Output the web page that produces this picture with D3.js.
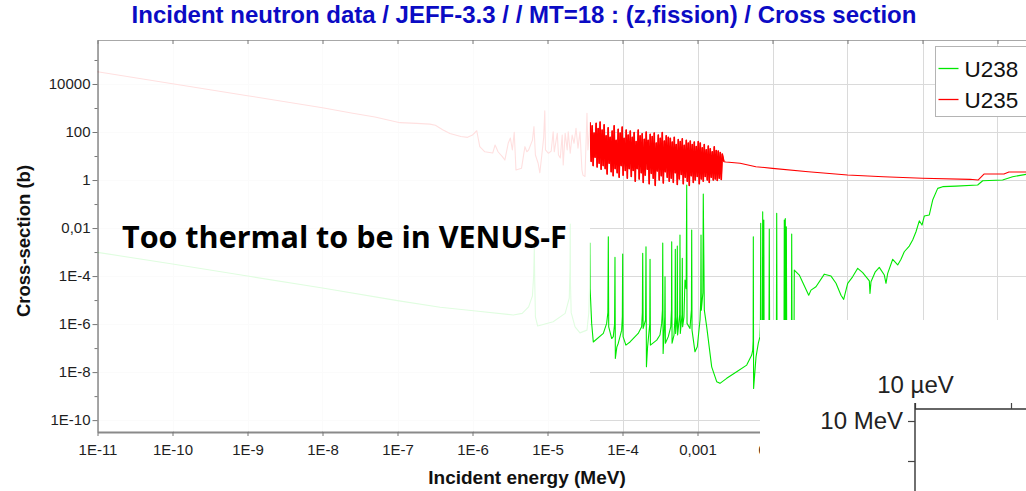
<!DOCTYPE html>
<html>
<head>
<meta charset="utf-8">
<script src="https://cdn.jsdelivr.net/npm/d3@7"></script>
<style>
  html, body { margin: 0; padding: 0; background: #fff; overflow: hidden; }
  svg { display: block; }
</style>
</head>
<body>
<svg id="chart" width="1026" height="491"></svg>
<script>
// ---------------------------------------------------------------
// Fission cross sections, JEFF-3.3 (energies in eV, sigma in barns)
// ---------------------------------------------------------------
const seriesNames = ["U238", "U235"];
const seriesColors = ["#00e800", "#ff0000"];

// U235: thermal 1/v part and first resolved resonances
const u235LowEv = [1e-5, 1e-4, 1e-3, 0.01, 0.0253, 0.05, 0.108, 0.18, 0.27, 0.32, 0.4, 0.5, 0.7, 0.86,
  1.0, 1.14, 1.25, 1.46, 1.86, 2.0, 2.2, 2.5, 2.7, 3.0, 3.2, 3.4, 3.6, 3.8, 4.5, 5.0, 5.3, 5.6, 6.3, 6.6,
  6.9, 7.5, 7.9, 8.4, 8.9, 9.2, 9.4, 10.3, 11.2, 11.9, 12.3, 13.5, 14.0, 14.8, 15.7, 16.2, 17.2, 18.3,
  18.9, 20.1, 21.3, 22.6, 24.0, 25.5, 27.1, 28.8, 29.7, 31.6, 33.6, 34.6];
const u235LowXs = [32600, 10300, 3260, 1030, 600, 420, 245, 228, 213, 190, 125, 87, 65, 60,
  75, 113, 24.5, 15, 13.3, 28.7, 14.7, 9.4, 6.8, 35, 56, 17.8, 97, 2.6, 3.07, 24.5, 15, 17.8, 46, 167,
  11, 5.0, 2.0, 11, 60, 770, 18, 13, 16, 103, 15, 88, 11, 8.3, 75, 4.2, 88, 18,
  103, 13, 75, 34, 142, 21, 103, 2.6, 1.6, 1.4, 600, 18];

// U235: dense resolved resonance region (37 eV - 2.25 keV)
const u235ResEv = [37, 38.2, 39.4, 40.6, 41.8, 43.1, 44.5, 45.9, 47.3, 48.8,
  50.3, 51.9, 53.5, 55.2, 56.9, 58.7, 60.5, 62.4, 64.4, 66.4,
  68.5, 70.6, 72.8, 75.1, 77.4, 79.8, 82.3, 84.9, 87.6, 90.3,
  93.1, 96, 99, 102, 105, 109, 112, 116, 119, 123,
  127, 131, 135, 139, 143, 148, 152, 157, 162, 167,
  172, 178, 183, 189, 195, 201, 207, 214, 220, 227,
  234, 242, 249, 257, 265, 273, 282, 291, 300, 309,
  319, 329, 339, 350, 361, 372, 383, 395, 408, 420,
  434, 447, 461, 476, 490, 506, 521, 538, 554, 572,
  589, 608, 627, 646, 666, 687, 709, 731, 753, 777,
  801, 826, 852, 879, 906, 934, 963, 993, 1024, 1056,
  1089, 1123, 1158, 1194, 1231, 1269, 1309, 1350, 1392, 1435,
  1480, 1526, 1574, 1623, 1673, 1725, 1779, 1835, 1892, 1951,
  2012, 2075, 2140, 2250];
const u235ResXs = [250, 6, 180, 4, 90, 9, 230, 3.5, 140, 5,
  260, 2.8, 120, 4, 200, 3, 70, 1.8, 150, 5,
  60, 2.2, 110, 1.5, 180, 3, 45, 2, 130, 1.3,
  90, 4, 160, 1.6, 55, 2.5, 120, 1.2, 75, 3,
  110, 1.4, 60, 2.5, 95, 0.9, 40, 3, 120, 1.1,
  70, 2, 85, 0.8, 50, 1.6, 100, 2.8, 45, 0.7,
  80, 1.9, 65, 1.2, 90, 0.6, 35, 2.4, 75, 1.0,
  55, 1.5, 95, 0.75, 42, 2.2, 70, 1.3, 60, 0.9,
  55, 1.2, 38, 0.8, 60, 2, 30, 0.65, 48, 1.1,
  40, 1.7, 52, 0.7, 28, 1.3, 45, 0.9, 35, 0.6,
  42, 1.5, 30, 0.8, 38, 1.0, 25, 1.4, 40, 0.7,
  35, 1.1, 22, 0.9, 30, 1.4, 18, 1.0, 26, 0.8,
  20, 1.3, 15, 1.0, 24, 1.1, 17, 0.95, 16, 1.2,
  14, 1.05, 12, 5.8];

// U235: unresolved and fast range
const u235HighEv = [2400, 3700, 6000, 1e4, 3e4, 1e5, 3e5, 1e6, 4.3e6, 5.5e6, 6.6e6, 12.2e6, 14.2e6, 24e6];
const u235HighXs = [5.6, 5.0, 3.6, 3.07, 2.2, 1.61, 1.37, 1.18, 1.07, 1.0, 1.78, 1.78, 2.15, 2.15];

// U238: thermal range and first resonances
const u238LowEv = [1e-5, 1e-4, 1e-3, 0.01, 0.1, 0.37, 1.03, 3.5, 4.6, 5.6, 6.3, 6.55, 6.67, 6.75, 6.9, 7.4,
  11.9, 17.2, 19.5, 19.95, 20.1, 20.25, 20.7, 23.3, 27.1, 33.6, 35.5, 36.4, 36.7, 37.0];
const u238LowXs = [9.7e-4, 3.2e-4, 1.0e-4, 3.2e-5, 9.5e-6, 5.0e-6, 3.6e-6, 2.4e-6, 2.8e-6, 5.2e-6, 1.5e-5, 1.2e-4, 1.66e-3, 8e-5, 2e-6, 8.3e-7,
  1.26e-6, 2.8e-6, 1.2e-5, 2e-4, 0.0147, 5e-5, 3e-6, 7.7e-7, 4.3e-7, 5.6e-7, 2.9e-6, 4e-5, 2.4e-3, 3e-5];

// U238: resolved resonances (38 eV - 20 keV)
const u238ResEv = [38.8, 40.8, 55.5, 61.5, 63.8, 64.7, 65.5, 71.8, 75.4, 78.4, 79.4, 80.3, 84, 87.9,
  97.5, 99.5, 100.6, 101.8, 111, 126, 162, 180, 184, 186, 188.5, 203, 205.7, 208.5, 216, 231, 233, 235.5,
  286, 316, 333, 341, 344, 348, 366, 369, 373, 408, 440, 450, 453, 458, 486, 502, 506, 511, 534, 538,
  543, 579, 584, 590, 622, 627, 633, 660, 681, 706, 718, 725, 794, 830, 837, 845, 926, 994, 1080,
  1105, 1114, 1124, 1180, 1194, 1205, 1233, 1327, 1546, 1803, 1995, 2450, 3330, 4530, 5280, 5450,
  5520, 5550, 5600, 6030, 6470, 6810, 6900, 6960, 7020, 7340, 7400, 7460, 7600, 7660, 7720, 8980,
  9060, 9140, 11280, 11380, 11480, 14250, 14360, 14480, 14700, 14820, 14950, 15200, 15300, 15450,
  17900, 18030, 18200, 19400, 19530];
const u238ResXs = [1.07e-6, 1.8e-7, 4.1e-7, 1.07e-6, 3e-6, 4.3e-3, 7.7e-7, 2.5e-7, 3.0e-7, 1e-6, 6.0e-4, 3.7e-8, 1.1e-7, 1.6e-7,
  5.6e-7, 2e-6, 8.3e-4, 3.0e-7, 1.33e-7, 1.8e-7, 4.1e-7, 7.7e-7, 3e-6, 8.9e-4, 6.6e-7, 1.5e-6, 1.66e-3, 1.66e-8, 1.13e-7, 1e-6, 5.0e-4, 1.33e-7,
  2.15e-7, 3.5e-7, 1.07e-6, 4e-6, 2.4e-3, 6.0e-8, 2e-6, 9.3e-5, 1.6e-7, 3.0e-7, 7.7e-7, 4e-6, 2.7e-3, 1.6e-7, 3.5e-7, 2e-6, 1.3e-3, 4.1e-7, 2e-6, 1.78e-3,
  3.5e-7, 2.5e-6, 5.1e-3, 4.1e-7, 2.5e-6, 5.5e-4, 7.7e-7, 2e-6, 6.8e-5, 3e-5, 0.62, 1.07e-6, 6.6e-7, 4e-6, 8.3e-3, 5.6e-7, 7.0e-8, 1.13e-7, 1.47e-6,
  1e-5, 5.1e-3, 3.8e-6, 2e-5, 0.26, 0.01, 3.8e-6, 7.7e-7, 1.66e-8, 4.0e-9, 3.4e-9, 5.5e-9, 1.03e-8, 1.96e-8, 5.1e-8, 8.3e-8,
  2e-7, 4.3e-3, 2.1e-9, 4.3e-8, 1.6e-7, 3.0e-7, 1e-6, 0.0158, 1e-6, 1e-6, 0.048, 1e-6, 1e-6, 0.0215, 1e-6, 1e-6,
  9.1e-3, 1e-6, 1e-6, 0.041, 1e-6, 1e-6, 0.0215, 1e-6, 1e-6, 0.025, 1e-6, 1e-6, 0.0113, 1e-6,
  1e-6, 5.6e-3, 1e-6, 1e-6, 1.78e-4];

// U238: unresolved and fast range
const u238HighEv = [22760, 30400, 32600, 38000, 49100, 60300, 70300, 81900, 88900,
  100600, 117000, 136800, 159500, 195400, 199500, 205700, 234800, 265400, 309600, 326000, 343600,
  400600, 467000, 516900, 571300, 666500, 739300, 818900, 906000, 984700, 1.057e6, 1.232e6, 1.367e6,
  1.595e6, 1.859e6, 2.797e6, 5.44e6, 6.35e6, 11.7e6, 15.9e6, 24e6];
const u238HighXs = [1.1e-4, 1.6e-5, 2.6e-5, 3.6e-5, 1.2e-4, 1.0e-4, 5.0e-5, 1.6e-5, 1.07e-5,
  5.0e-5, 9.3e-5, 2.1e-4, 1.38e-4, 6.3e-5, 1.9e-5, 5.8e-5, 1.5e-4, 2.3e-4, 1.1e-4, 5.0e-5, 1.29e-4,
  5.0e-4, 2.9e-4, 5.0e-4, 1.03e-3, 1.78e-3, 3.2e-3, 7.0e-3, 0.02, 0.0133, 0.0316, 0.035, 0.147,
  0.45, 0.53, 0.56, 0.62, 0.935, 1.0, 1.37, 1.73];

// Axis ticks (energy in MeV, cross-section in barns)
const xTickValues = [1e-11, 1e-10, 1e-9, 1e-8, 1e-7, 1e-6, 1e-5, 1e-4, 1e-3, 1e-2, 1e-1, 1, 10];
const xTickLabels = ["1E-11", "1E-10", "1E-9", "1E-8", "1E-7", "1E-6", "1E-5", "1E-4", "0,001", "0,01", "0,1", "1", "10"];
const yTickValues = [1e4, 1e2, 1, 1e-2, 1e-4, 1e-6, 1e-8, 1e-10];
const yTickLabels = ["10000", "100", "1", "0,01", "1E-4", "1E-6", "1E-8", "1E-10"];
const yMinorValues = [1e5, 1e3, 10, 0.1, 1e-3, 1e-5, 1e-7, 1e-9];

// Small energy-map axes in the lower right corner
const insetXTicks = [1e-11, 1e-10];
const insetXLabels = ["10 µeV", ""];
const insetYTicks = [10, 1];
const insetYLabels = ["10 MeV", ""];

const titleText = "Incident neutron data / JEFF-3.3 / / MT=18 : (z,fission) / Cross section";
const noteText = "Too thermal to be in VENUS-F";

// ---------------------------------------------------------------
const svg = d3.select("#chart");
const W = 1026, H = 491;
const plot = { left: 97.5, right: 1072.5, top: 40, bottom: 432 };
const FONT = "'Liberation Sans', Arial, Helvetica, sans-serif";

const x = d3.scaleLog().domain([1e-11, 100]).range([plot.left, plot.right]);
const y = d3.scaleLog().domain([3.2e-11, 6.8e5]).range([plot.bottom, plot.top]);

const crisp = v => Math.round(v) + 0.5;
const isDecade = v => Math.abs(Math.log10(v) - Math.round(Math.log10(v))) < 1e-9;

svg.append("rect").attr("width", W).attr("height", H).attr("fill", "#fff");

svg.append("defs").append("clipPath").attr("id", "plotClip")
  .append("rect")
  .attr("x", plot.left).attr("y", plot.top)
  .attr("width", plot.right - plot.left).attr("height", plot.bottom - plot.top);

// grid
const xGrid = x.ticks().filter(isDecade);
const yGrid = y.ticks().filter(isDecade);
const grid = svg.append("g").attr("stroke", "#dadada").attr("stroke-width", 1);
grid.selectAll("line.vx").data(xGrid).join("line")
  .attr("x1", d => crisp(x(d))).attr("x2", d => crisp(x(d)))
  .attr("y1", plot.top).attr("y2", plot.bottom);
grid.selectAll("line.hy").data(yGrid).join("line")
  .attr("x1", plot.left).attr("x2", plot.right)
  .attr("y1", d => crisp(y(d))).attr("y2", d => crisp(y(d)));

// curves
const toPairs = (ev, xs) => d3.zip(ev, xs).map(([e, s]) => [e * 1e-6, s]);
const u238 = toPairs(u238LowEv, u238LowXs)
  .concat(toPairs(u238ResEv, u238ResXs))
  .concat(toPairs(u238HighEv, u238HighXs));
const u235Res = toPairs(u235ResEv, u235ResXs);
const u235 = toPairs(u235LowEv, u235LowXs)
  .concat(u235Res)
  .concat(toPairs(u235HighEv, u235HighXs));

const line = d3.line().x(d => x(d[0])).y(d => y(d[1]));
const curves = svg.append("g").attr("clip-path", "url(#plotClip)").attr("fill", "none")
  .attr("stroke-linejoin", "round");
curves.append("path").attr("d", line(u238))
  .attr("stroke", seriesColors[0]).attr("stroke-width", 1.1);
curves.append("path").attr("d", line(u235))
  .attr("stroke", seriesColors[1]).attr("stroke-width", 1.1);
// the densely packed resonances read as a solid band
curves.append("path").attr("d", line(u235Res))
  .attr("stroke", seriesColors[1]).attr("stroke-width", 1.6);

// thermal range washed out
svg.append("rect")
  .attr("x", plot.left + 1).attr("y", plot.top + 1)
  .attr("width", 590 - plot.left - 1).attr("height", plot.bottom - plot.top - 2)
  .attr("fill", "#fff").attr("opacity", 0.88);

// axes
function styleAxis(g, domainWidth, domainColor) {
  g.select(".domain").attr("stroke", domainColor).attr("stroke-width", domainWidth);
  g.selectAll(".tick line").attr("stroke", "#777");
  g.selectAll("text").attr("font-family", FONT).attr("font-size", 15).attr("fill", "#1e1e1e");
}

const xAxis = svg.append("g").attr("transform", `translate(0,${plot.bottom})`)
  .call(d3.axisBottom(x).tickValues(xTickValues)
    .tickFormat((d, i) => xTickLabels[i]).tickSize(4).tickPadding(8).tickSizeOuter(0));
styleAxis(xAxis, 2, "#8a8a8a");

const topAxis = svg.append("g").attr("transform", `translate(0,${plot.top})`)
  .call(d3.axisTop(x).tickValues(xGrid).tickFormat("").tickSize(-4).tickSizeOuter(0));
styleAxis(topAxis, 1, "#a8a8a8");

const yAxis = svg.append("g").attr("transform", `translate(${plot.left},0)`)
  .call(d3.axisLeft(y).tickValues(yTickValues)
    .tickFormat((d, i) => yTickLabels[i]).tickSize(5).tickPadding(2).tickSizeOuter(0));
styleAxis(yAxis, 1.5, "#8a8a8a");

const yMinor = svg.append("g").attr("transform", `translate(${plot.left},0)`)
  .call(d3.axisLeft(y).tickValues(yMinorValues).tickFormat("").tickSize(3).tickSizeOuter(0));
yMinor.select(".domain").remove();
yMinor.selectAll(".tick line").attr("stroke", "#777");

// titles
svg.append("text").text(titleText)
  .attr("x", 524).attr("y", 23).attr("text-anchor", "middle")
  .attr("font-family", FONT).attr("font-weight", "bold").attr("font-size", 24)
  .attr("fill", "#0b0bc4");

svg.append("text").text("Incident energy (MeV)")
  .attr("x", 527).attr("y", 484).attr("text-anchor", "middle")
  .attr("font-family", FONT).attr("font-weight", "bold").attr("font-size", 19)
  .attr("fill", "#111");

svg.append("text").text("Cross-section (b)")
  .attr("transform", "translate(30,241) rotate(-90)").attr("text-anchor", "middle")
  .attr("font-family", FONT).attr("font-weight", "bold").attr("font-size", 18.5)
  .attr("fill", "#111");

// legend
const legend = svg.append("g").attr("transform", "translate(935.5,46.5)");
legend.append("rect").attr("width", 130).attr("height", 70)
  .attr("fill", "#fff").attr("stroke", "#b4b4b4");
seriesNames.forEach((name, i) => {
  const row = legend.append("g").attr("transform", `translate(0,${22 + i * 31})`);
  row.append("line").attr("x1", 3).attr("x2", 23).attr("y1", 0).attr("y2", 0)
    .attr("stroke", seriesColors[i]).attr("stroke-width", 1.3);
  row.append("text").text(name).attr("x", 29).attr("y", 8)
    .attr("font-family", FONT).attr("font-size", 22.5).attr("fill", "#111");
});

// annotation
svg.append("text").text(noteText)
  .attr("x", 122).attr("y", 248)
  .attr("font-family", "'Open Sans', 'Noto Sans', sans-serif").attr("font-weight", "bold")
  .attr("font-size", 30.5).attr("fill", "#000");

// lower-right panel with its own energy axes
svg.append("rect").attr("x", 760).attr("y", 320).attr("width", W - 760).attr("height", H - 320)
  .attr("fill", "#fff");

const ix = d3.scaleLog().domain([1e-11, 1e-10]).range([915, 1011]);
const iy = d3.scaleLog().domain([10, 1]).range([421, 461]);

const insetTop = svg.append("g").attr("transform", "translate(0,409)")
  .call(d3.axisTop(ix).tickValues(insetXTicks).tickFormat((d, i) => insetXLabels[i])
    .tickSize(6).tickPadding(10).tickSizeOuter(0));
insetTop.select(".domain").attr("d", `M915,0H${W + 10}`);
const insetLeft = svg.append("g").attr("transform", "translate(915,0)")
  .call(d3.axisLeft(iy).tickValues(insetYTicks).tickFormat((d, i) => insetYLabels[i])
    .tickSize(7).tickPadding(5).tickSizeOuter(0));
insetLeft.select(".domain").attr("d", `M0,403V${H + 10}`);
[insetTop, insetLeft].forEach(g => {
  g.selectAll(".domain").attr("stroke", "#333").attr("stroke-width", 1.4);
  g.selectAll(".tick line").attr("stroke", "#444").attr("stroke-width", 1.2);
  g.selectAll("text").attr("font-family", FONT).attr("font-size", 24).attr("fill", "#222");
});
</script>
</body>
</html>
